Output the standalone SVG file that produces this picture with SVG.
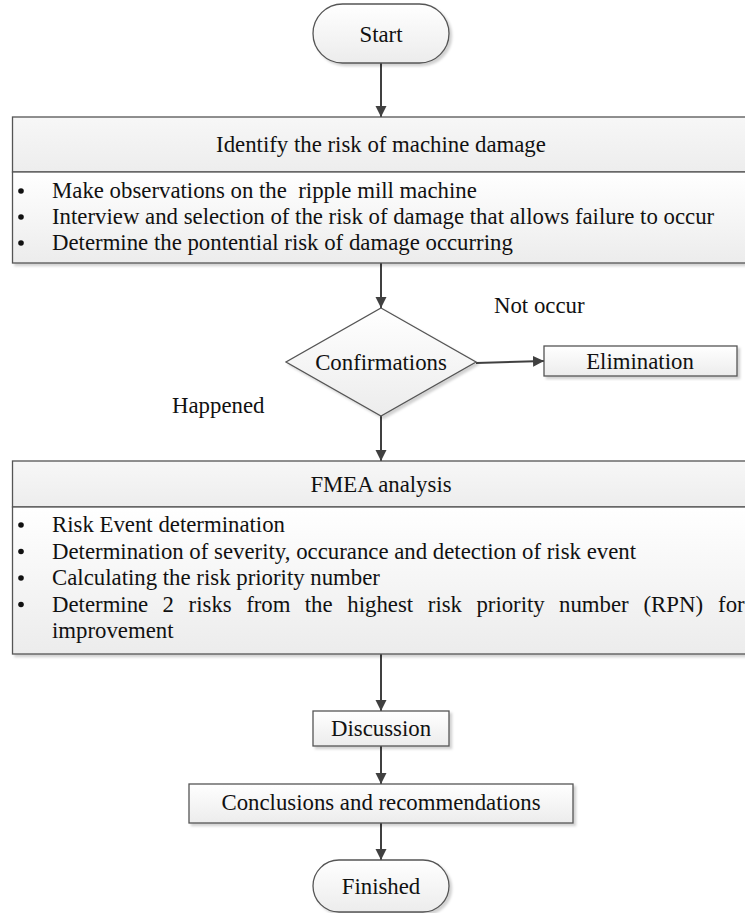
<svg xmlns="http://www.w3.org/2000/svg" width="745" height="913" viewBox="0 0 745 913">
<style>
  text { font-family: "Liberation Serif", "Times New Roman", serif; font-size: 22.8px; fill: #111; }
  .c { text-anchor: middle; }
  .shape { stroke: #555; stroke-width: 1.3; fill: url(#g); filter: url(#sh); }
  .hdr { stroke: #555; stroke-width: 1.3; fill: url(#gh); filter: url(#sh); }
  .conn line { stroke: #404040; stroke-width: 2; marker-end: url(#ah); }
  .bul { fill: #111; }
</style>
<defs>
  <linearGradient id="g" x1="0" y1="0" x2="0" y2="1">
    <stop offset="0" stop-color="#ffffff"/>
    <stop offset="1" stop-color="#ececec"/>
  </linearGradient>
  <linearGradient id="gh" x1="0" y1="0" x2="0" y2="1">
    <stop offset="0" stop-color="#f7f7f7"/>
    <stop offset="1" stop-color="#ededed"/>
  </linearGradient>
  <filter id="sh" x="-5%" y="-5%" width="110%" height="120%">
    <feDropShadow dx="2.5" dy="2.5" stdDeviation="0.8" flood-color="#000" flood-opacity="0.18"/>
  </filter>
  <marker id="ah" viewBox="0 0 10 10" refX="10" refY="5" markerWidth="5.5" markerHeight="6.5" markerUnits="strokeWidth" orient="auto">
    <path d="M0,0 L10,5 L0,10 z" fill="#404040"/>
  </marker>
</defs>

<g id="connectors" class="conn">
  <line x1="381" y1="63" x2="381" y2="117"/>
  <line x1="381" y1="263" x2="381" y2="308"/>
  <line x1="476" y1="363" x2="544" y2="361"/>
  <line x1="381" y1="416" x2="381" y2="461"/>
  <line x1="381" y1="654" x2="381" y2="711"/>
  <line x1="381" y1="746" x2="381" y2="784"/>
  <line x1="381" y1="823" x2="381" y2="860"/>
</g>

<g id="start">
  <rect class="shape" x="313" y="4" width="136" height="59" rx="29.5" ry="29.5"/>
  <text class="c" x="381" y="41.5">Start</text>
</g>

<g id="identify">
  <rect class="hdr" x="12.5" y="117" width="740" height="55"/>
  <rect class="shape" x="12.5" y="172" width="740" height="91"/>
  <text class="c" x="381" y="152">Identify the risk of machine damage</text>
  <circle class="bul" cx="21" cy="191" r="2.8"/>
  <text x="52" y="198" xml:space="preserve">Make observations on the  ripple mill machine</text>
  <circle class="bul" cx="21" cy="217" r="2.8"/>
  <text x="52" y="224">Interview and selection of the risk of damage that allows failure to occur</text>
  <circle class="bul" cx="21" cy="243" r="2.8"/>
  <text x="52" y="250">Determine the pontential risk of damage occurring</text>
</g>

<g id="confirmations">
  <polygon class="shape" points="381,308 476,362 381,416 286,362"/>
  <text class="c" x="381" y="370">Confirmations</text>
</g>

<g id="label-not-occur">
  <text x="494" y="313">Not occur</text>
</g>

<g id="label-happened">
  <text x="172" y="413">Happened</text>
</g>

<g id="elimination">
  <rect class="shape" x="544" y="346" width="193" height="30"/>
  <text class="c" x="640" y="369">Elimination</text>
</g>

<g id="fmea">
  <rect class="hdr" x="12.5" y="461" width="740" height="46"/>
  <rect class="shape" x="12.5" y="507" width="740" height="147"/>
  <text class="c" x="381" y="492">FMEA analysis</text>
  <circle class="bul" cx="21" cy="525" r="2.8"/>
  <text x="52" y="532">Risk Event determination</text>
  <circle class="bul" cx="21" cy="551.5" r="2.8"/>
  <text x="52" y="558.5">Determination of severity, occurance and detection of risk event</text>
  <circle class="bul" cx="21" cy="578" r="2.8"/>
  <text x="52" y="585">Calculating the risk priority number</text>
  <circle class="bul" cx="21" cy="604.5" r="2.8"/>
  <text y="611.5"><tspan x="52">Determine</tspan><tspan x="162.6">2</tspan><tspan x="188.6">risks</tspan><tspan x="246.2">from</tspan><tspan x="304.7">the</tspan><tspan x="347.3">highest</tspan><tspan x="427.8">risk</tspan><tspan x="476.4">priority</tspan><tspan x="559">number</tspan><tspan x="643.5">(RPN)</tspan><tspan x="718.1">for</tspan></text>
  <text x="52" y="638">improvement</text>
</g>

<g id="discussion">
  <rect class="shape" x="313" y="711" width="136" height="35"/>
  <text class="c" x="381" y="736">Discussion</text>
</g>

<g id="conclusions">
  <rect class="shape" x="189" y="784" width="384" height="39"/>
  <text class="c" x="381" y="810">Conclusions and recommendations</text>
</g>

<g id="finished">
  <rect class="shape" x="313" y="860" width="136" height="52" rx="26" ry="26"/>
  <text class="c" x="381" y="894">Finished</text>
</g>
</svg>
